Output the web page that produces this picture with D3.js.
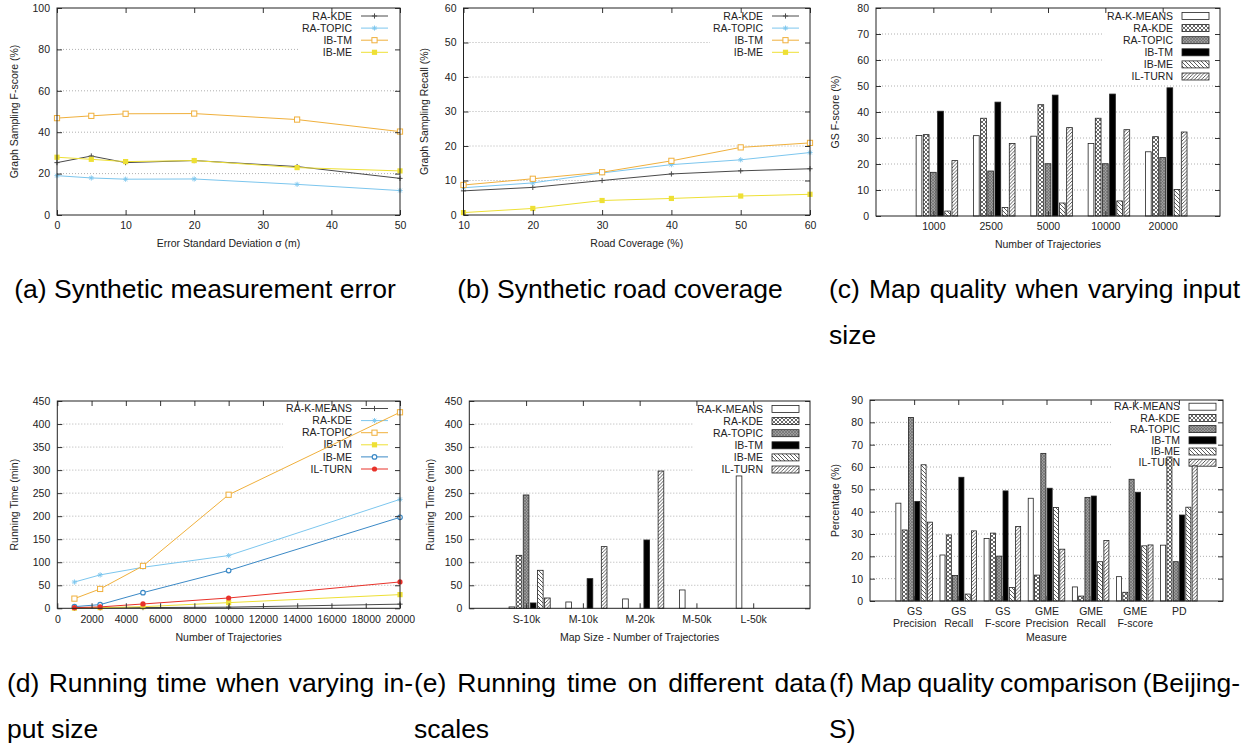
<!DOCTYPE html>
<html>
<head>
<meta charset="utf-8">
<script src="https://cdn.jsdelivr.net/npm/d3@7"></script>
<style>
  body { margin: 0; background: #fff; }
  svg { display: block; font-family: "Liberation Sans", Arial, sans-serif; }
</style>
</head>
<body>
<svg id="fig" width="1252" height="749"></svg>
<script>
// ---- data ----
// (a) synthetic measurement error
const errSigma = [0, 5, 10, 20, 35, 50];
const errKDE = [25.3, 28.5, 25.3, 26.3, 23.4, 17.7];
const errTOPIC = [19, 17.9, 17.3, 17.4, 14.8, 11.8];
const errTM = [46.8, 47.9, 48.9, 49, 46.1, 40.3];
const errME = [27.9, 26.9, 25.8, 26.3, 22.9, 21.3];

// (b) synthetic road coverage
const coverage = [10, 20, 30, 40, 50, 60];
const covKDE = [7, 8, 10, 11.9, 12.8, 13.4];
const covTOPIC = [7.9, 9.3, 12.2, 14.6, 16, 18.1];
const covTM = [8.7, 10.5, 12.4, 15.7, 19.6, 20.9];
const covME = [0.7, 1.9, 4.2, 4.8, 5.5, 6.0];

// (c) map quality vs input size
const sizeGroups = ["1000", "2500", "5000", "10000", "20000"];
const sizeKMEANS = [31, 30.9, 30.7, 27.9, 24.7];
const sizeKDE = [31.3, 37.6, 42.8, 37.6, 30.5];
const sizeTOPIC = [16.8, 17.3, 20.1, 20.1, 22.5];
const sizeTM = [40.3, 43.8, 46.5, 46.9, 49.3];
const sizeME = [1.9, 3.3, 5, 5.8, 10.2];
const sizeTURN = [21.3, 27.9, 34, 33.2, 32.3];

// (d) running time vs input size
const trajCount = [1000, 2500, 5000, 10000, 20000];
const timeKMEANS = [0.5, 1, 1.5, 2.5, 9];
const timeKDE = [57, 72.5, 89, 114.5, 236.5];
const timeTOPIC = [21, 42, 92, 246.5, 425.5];
const timeTM = [0.5, 1.5, 3.5, 12.3, 29.7];
const timeME = [3.6, 8, 34, 82, 197.5];
const timeTURN = [1.4, 3, 9.4, 22.4, 57.2];

// (e) running time on data scales (null = not run)
const scaleGroups = ["S-10k", "M-10k", "M-20k", "M-50k", "L-50k"];
const scaleKMEANS = [3, 13.7, 20.3, 39.8, 287.3];
const scaleKDE = [115, null, null, null, null];
const scaleTOPIC = [246, null, null, null, null];
const scaleTM = [11.6, 64.4, 148.3, null, null];
const scaleME = [82.5, null, null, null, null];
const scaleTURN = [22.4, 133.9, 298, null, null];

// (f) map quality comparison
const measureGroups = [["GS", "Precision"], ["GS", "Recall"], ["GS", "F-score"],
  ["GME", "Precision"], ["GME", "Recall"], ["GME", "F-score"], ["PD"]];
const qualKMEANS = [43.8, 20.6, 28, 46, 6.3, 10.9, 25];
const qualKDE = [31.8, 29.6, 30.4, 11.6, 2.2, 3.9, 64.5];
const qualTOPIC = [82.2, 11.4, 20.1, 66.1, 46.4, 54.5, 17.6];
const qualTM = [44.6, 55.4, 49.3, 50.5, 47, 48.7, 38.5];
const qualME = [61, 3.1, 6, 41.9, 17.6, 24.7, 42];
const qualTURN = [35.3, 31.4, 33.4, 23.2, 27.1, 25.1, 60.5];

// ---- styles ----
const lineStyles = [
  { color: "#4a4a4a", mark: "plus" },
  { color: "#7cc6ee", mark: "star" },
  { color: "#f0b03c", mark: "osq" },
  { color: "#eee035", mark: "fsq" },
  { color: "#3b89c6", mark: "ocirc" },
  { color: "#e8322a", mark: "fcirc" }
];
const barFills = ["#fff", "url(#pKDE)", "url(#pTOPIC)", "#000", "url(#pME)", "url(#pTURN)"];
const smallFont = "10.5px";
const capFont = "26.5px";

const svg = d3.select("#fig");
const defs = svg.append("defs");

function pattern(id, size, bg, path, stroke, sw) {
  const p = defs.append("pattern").attr("id", id)
    .attr("patternUnits", "userSpaceOnUse").attr("width", size).attr("height", size);
  p.append("rect").attr("width", size).attr("height", size).attr("fill", bg);
  p.append("path").attr("d", path).attr("stroke", stroke).attr("stroke-width", sw).attr("fill", "none");
}
pattern("pKDE", 4, "#fff", "M0,0L4,4M4,0L0,4", "#444", 0.8);
pattern("pTOPIC", 3, "#9c9c9c", "M0,0L3,3M3,0L0,3", "#666", 0.6);
pattern("pME", 4, "#fff", "M0,0L4,4M-1,3L1,5M3,-1L5,1", "#333", 0.8);
pattern("pTURN", 3.5, "#fff", "M0,3.5L3.5,0M-1,1L1,-1M2.5,4.5L4.5,2.5", "#333", 0.8);

function marker(g, type, cx, cy, color) {
  const s = 2.6, d = s * 0.72;
  if (type === "plus") {
    g.append("path").attr("d", `M${cx - s},${cy}H${cx + s}M${cx},${cy - s}V${cy + s}`)
      .attr("stroke", color).attr("stroke-width", 1);
  } else if (type === "star") {
    g.append("path").attr("d", `M${cx - s},${cy}H${cx + s}M${cx},${cy - s}V${cy + s}M${cx - d},${cy - d}L${cx + d},${cy + d}M${cx - d},${cy + d}L${cx + d},${cy - d}`)
      .attr("stroke", color).attr("stroke-width", 0.9);
  } else if (type === "osq") {
    g.append("rect").attr("x", cx - 2.6).attr("y", cy - 2.6).attr("width", 5.2).attr("height", 5.2)
      .attr("fill", "#fff").attr("stroke", color).attr("stroke-width", 1);
  } else if (type === "fsq") {
    g.append("rect").attr("x", cx - 2.6).attr("y", cy - 2.6).attr("width", 5.2).attr("height", 5.2).attr("fill", color);
  } else if (type === "ocirc") {
    g.append("circle").attr("cx", cx).attr("cy", cy).attr("r", 2.3).attr("fill", "#fff").attr("stroke", color).attr("stroke-width", 1.2);
  } else {
    g.append("circle").attr("cx", cx).attr("cy", cy).attr("r", 2.6).attr("fill", color);
  }
}

function grid(g, y, left, right, yTicks) {
  g.append("g").selectAll("line").data(yTicks.slice(1, -1)).join("line")
    .attr("x1", left).attr("x2", right)
    .attr("y1", d => y(d)).attr("y2", d => y(d))
    .attr("stroke", "#b0b0b0").attr("stroke-dasharray", "1,2");
}

function styleAxis(sel) {
  sel.select(".domain").remove();
  sel.attr("font-family", null).attr("font-size", null);
  sel.selectAll(".tick line").attr("stroke", "#333");
  sel.selectAll(".tick text").attr("fill", "#222").style("font-size", smallFont);
}

function frame(g, x, y, xTicks, xFmt, yTicks) {
  const [l, r] = x.range();
  const [b, t] = y.range();
  g.append("g").attr("transform", `translate(${l},0)`)
    .call(d3.axisLeft(y).tickValues(yTicks).tickSize(-5).tickPadding(7)).call(styleAxis);
  g.append("g").attr("transform", `translate(${r},0)`)
    .call(d3.axisRight(y).tickValues(yTicks).tickSize(-5).tickFormat("")).call(styleAxis);
  const bottom = g.append("g").attr("transform", `translate(0,${b})`)
    .call(d3.axisBottom(x).tickValues(xTicks).tickSize(-5).tickPadding(7).tickFormat(xFmt)).call(styleAxis);
  g.append("g").attr("transform", `translate(0,${t})`)
    .call(d3.axisTop(x).tickValues(xTicks).tickSize(-5).tickFormat("")).call(styleAxis);
  g.append("rect").attr("x", l).attr("y", t).attr("width", r - l).attr("height", b - t)
    .attr("fill", "none").attr("stroke", "#222");
  return bottom;
}

function titles(g, p) {
  g.append("text").attr("x", (p.left + p.right) / 2).attr("y", p.bottom + p.xTitleDy)
    .attr("text-anchor", "middle").style("font-size", smallFont).attr("fill", "#222").text(p.xTitle);
  g.append("text").attr("transform", `translate(${p.yTitleX},${(p.top + p.bottom) / 2}) rotate(-90)`)
    .attr("text-anchor", "middle").attr("dy", "0.35em").style("font-size", smallFont).attr("fill", "#222").text(p.yTitle);
}

function legend(g, p, kind) {
  const lg = g.append("g");
  const textEnd = p.right - (p.legendInset || 47);
  const y0 = p.top + (p.legendTop || 8);
  const step = p.legendStep || 12.1;
  let maxW = 0;
  p.series.forEach((s, i) => {
    const cy = y0 + i * step;
    const t = lg.append("text").attr("x", textEnd).attr("y", cy).attr("dy", "0.35em")
      .attr("text-anchor", "end").style("font-size", smallFont).attr("fill", "#222").text(s.name);
    maxW = Math.max(maxW, t.node().getComputedTextLength());
    if (kind === "line") {
      lg.append("line").attr("x1", textEnd + 9).attr("x2", textEnd + 36).attr("y1", cy).attr("y2", cy)
        .attr("stroke", s.style.color).attr("stroke-width", 1);
      marker(lg, s.style.mark, textEnd + 22.5, cy, s.style.color);
    } else {
      lg.append("rect").attr("x", textEnd + 9).attr("y", cy - 3.5).attr("width", 27).attr("height", 7)
        .attr("fill", s.fill).attr("stroke", "#222").attr("stroke-width", 0.8);
    }
  });
  lg.insert("rect", ":first-child").attr("x", textEnd - maxW - 3).attr("y", p.top)
    .attr("width", p.right - (textEnd - maxW - 3)).attr("height", y0 + (p.series.length - 1) * step + 7 - p.top)
    .attr("fill", "#fff");
}

function linePanel(p) {
  const g = svg.append("g");
  const x = d3.scaleLinear().domain(p.xDomain).range([p.left, p.right]);
  const y = d3.scaleLinear().domain(p.yDomain).range([p.bottom, p.top]);
  grid(g, y, p.left, p.right, p.yTicks);
  legend(g, p, "line");
  const line = d3.line().x(d => x(d[0])).y(d => y(d[1]));
  p.series.forEach(s => {
    const pts = p.xs.map((v, i) => [v, s.values[i]]);
    g.append("path").datum(pts).attr("d", line)
      .attr("fill", "none").attr("stroke", s.style.color).attr("stroke-width", 1);
    pts.forEach(d => marker(g, s.style.mark, x(d[0]), y(d[1]), s.style.color));
  });
  frame(g, x, y, p.xTicks, d3.format("d"), p.yTicks);
  titles(g, p);
}

function barPanel(p) {
  const g = svg.append("g");
  const n = p.series.length;
  const x = d3.scaleLinear().domain([-1, p.groups.length]).range([p.left, p.right]);
  const y = d3.scaleLinear().domain(p.yDomain).range([p.bottom, p.top]);
  grid(g, y, p.left, p.right, p.yTicks);
  legend(g, p, "bar");
  const step = (x(1) - x(0)) / (n + p.gap);
  const bw = step * 0.8;
  const offset = (p.gap - 1) / 2 * step;
  p.series.forEach((s, j) => {
    const data = s.values.map((v, i) => ({ i, v })).filter(d => d.v != null);
    g.append("g").selectAll("rect").data(data).join("rect")
      .attr("x", d => x(d.i) + offset + (j - (n - 1) / 2) * step - bw / 2)
      .attr("y", d => y(d.v))
      .attr("width", bw)
      .attr("height", d => y(0) - y(d.v))
      .attr("fill", s.fill).attr("stroke", "#222").attr("stroke-width", 0.8);
  });
  const bottom = frame(g, x, y, d3.range(p.groups.length), i => p.groups[i], p.yTicks);
  if (p.twoLine) {
    bottom.selectAll(".tick text").each(function (i) {
      const t = d3.select(this).attr("dy", null).text(null);
      p.groups[i].forEach((s, k) => t.append("tspan").attr("x", 0).attr("dy", k ? "1.1em" : "0.71em").text(s));
    });
  }
  titles(g, p);
}

function caption(x0, w, y, text, mode) {
  const g = svg.append("g").style("font-size", capFont).attr("fill", "#000");
  if (mode === "center") {
    g.append("text").attr("x", x0 + w / 2).attr("y", y).attr("text-anchor", "middle").text(text);
  } else if (mode === "left") {
    g.append("text").attr("x", x0).attr("y", y).text(text);
  } else {
    const words = text.split(" ");
    const nodes = words.map(wd => g.append("text").attr("y", y).text(wd));
    const widths = nodes.map(nd => nd.node().getComputedTextLength());
    const gap = (w - d3.sum(widths)) / (words.length - 1);
    let cx = x0;
    nodes.forEach((nd, i) => { nd.attr("x", cx); cx += widths[i] + gap; });
  }
}

// ---- panels ----
linePanel({
  left: 57, right: 400, top: 8, bottom: 215,
  xDomain: [0, 50], yDomain: [0, 100], xs: errSigma,
  xTicks: d3.range(0, 51, 10), yTicks: d3.range(0, 101, 20),
  xTitle: "Error Standard Deviation σ (m)", yTitle: "Graph Sampling F-score (%)",
  xTitleDy: 32, yTitleX: 14, legendInset: 48,
  series: [
    { name: "RA-KDE", values: errKDE, style: lineStyles[0] },
    { name: "RA-TOPIC", values: errTOPIC, style: lineStyles[1] },
    { name: "IB-TM", values: errTM, style: lineStyles[2] },
    { name: "IB-ME", values: errME, style: lineStyles[3] }
  ]
});

linePanel({
  left: 463.5, right: 810, top: 8, bottom: 215,
  xDomain: [10, 60], yDomain: [0, 60], xs: coverage,
  xTicks: d3.range(10, 61, 10), yTicks: d3.range(0, 61, 10),
  xTitle: "Road Coverage (%)", yTitle: "Graph Sampling Recall (%)",
  xTitleDy: 32, yTitleX: 424,
  series: [
    { name: "RA-KDE", values: covKDE, style: lineStyles[0] },
    { name: "RA-TOPIC", values: covTOPIC, style: lineStyles[1] },
    { name: "IB-TM", values: covTM, style: lineStyles[2] },
    { name: "IB-ME", values: covME, style: lineStyles[3] }
  ]
});

barPanel({
  left: 876, right: 1220, top: 8, bottom: 216,
  groups: sizeGroups, yDomain: [0, 80], yTicks: d3.range(0, 81, 10), gap: 2,
  xTitle: "Number of Trajectories", yTitle: "GS F-score (%)",
  xTitleDy: 32, yTitleX: 835,
  series: [
    { name: "RA-K-MEANS", values: sizeKMEANS, fill: barFills[0] },
    { name: "RA-KDE", values: sizeKDE, fill: barFills[1] },
    { name: "RA-TOPIC", values: sizeTOPIC, fill: barFills[2] },
    { name: "IB-TM", values: sizeTM, fill: barFills[3] },
    { name: "IB-ME", values: sizeME, fill: barFills[4] },
    { name: "IL-TURN", values: sizeTURN, fill: barFills[5] }
  ]
});

linePanel({
  left: 57.3, right: 400, top: 401, bottom: 608.3,
  xDomain: [0, 20000], yDomain: [0, 450], xs: trajCount,
  xTicks: d3.range(0, 20001, 2000), yTicks: d3.range(0, 451, 50),
  xTitle: "Number of Trajectories", yTitle: "Running Time (min)",
  xTitleDy: 33, yTitleX: 14, legendInset: 48, legendTop: 7.5,
  series: [
    { name: "RA-K-MEANS", values: timeKMEANS, style: lineStyles[0] },
    { name: "RA-KDE", values: timeKDE, style: lineStyles[1] },
    { name: "RA-TOPIC", values: timeTOPIC, style: lineStyles[2] },
    { name: "IB-TM", values: timeTM, style: lineStyles[3] },
    { name: "IB-ME", values: timeME, style: lineStyles[4] },
    { name: "IL-TURN", values: timeTURN, style: lineStyles[5] }
  ]
});

barPanel({
  left: 469.3, right: 810, top: 401, bottom: 608.3,
  groups: scaleGroups, yDomain: [0, 450], yTicks: d3.range(0, 451, 50), gap: 2,
  xTitle: "Map Size - Number of Trajectories", yTitle: "Running Time (min)",
  xTitleDy: 33, yTitleX: 430,
  series: [
    { name: "RA-K-MEANS", values: scaleKMEANS, fill: barFills[0] },
    { name: "RA-KDE", values: scaleKDE, fill: barFills[1] },
    { name: "RA-TOPIC", values: scaleTOPIC, fill: barFills[2] },
    { name: "IB-TM", values: scaleTM, fill: barFills[3] },
    { name: "IB-ME", values: scaleME, fill: barFills[4] },
    { name: "IL-TURN", values: scaleTURN, fill: barFills[5] }
  ]
});

barPanel({
  left: 870, right: 1223, top: 400, bottom: 601,
  groups: measureGroups, twoLine: true, yDomain: [0, 90], yTicks: d3.range(0, 91, 10), gap: 1,
  xTitle: "Measure", yTitle: "Percentage (%)",
  xTitleDy: 40, yTitleX: 835, legendInset: 43, legendTop: 6.7, legendStep: 11.2,
  series: [
    { name: "RA-K-MEANS", values: qualKMEANS, fill: barFills[0] },
    { name: "RA-KDE", values: qualKDE, fill: barFills[1] },
    { name: "RA-TOPIC", values: qualTOPIC, fill: barFills[2] },
    { name: "IB-TM", values: qualTM, fill: barFills[3] },
    { name: "IB-ME", values: qualME, fill: barFills[4] },
    { name: "IL-TURN", values: qualTURN, fill: barFills[5] }
  ]
});

// ---- captions ----
caption(0, 410, 298, "(a) Synthetic measurement error", "center");
caption(414, 412, 298, "(b) Synthetic road coverage", "center");
caption(829, 411, 298, "(c) Map quality when varying input", "justify");
caption(829, 411, 344, "size", "left");
caption(7, 406, 692, "(d) Running time when varying in-", "justify");
caption(7, 406, 738, "put size", "left");
caption(414, 412, 692, "(e) Running time on different data", "justify");
caption(414, 412, 738, "scales", "left");
caption(829, 411, 692, "(f) Map quality comparison (Beijing-", "justify");
caption(829, 411, 738, "S)", "left");
</script>
</body>
</html>
